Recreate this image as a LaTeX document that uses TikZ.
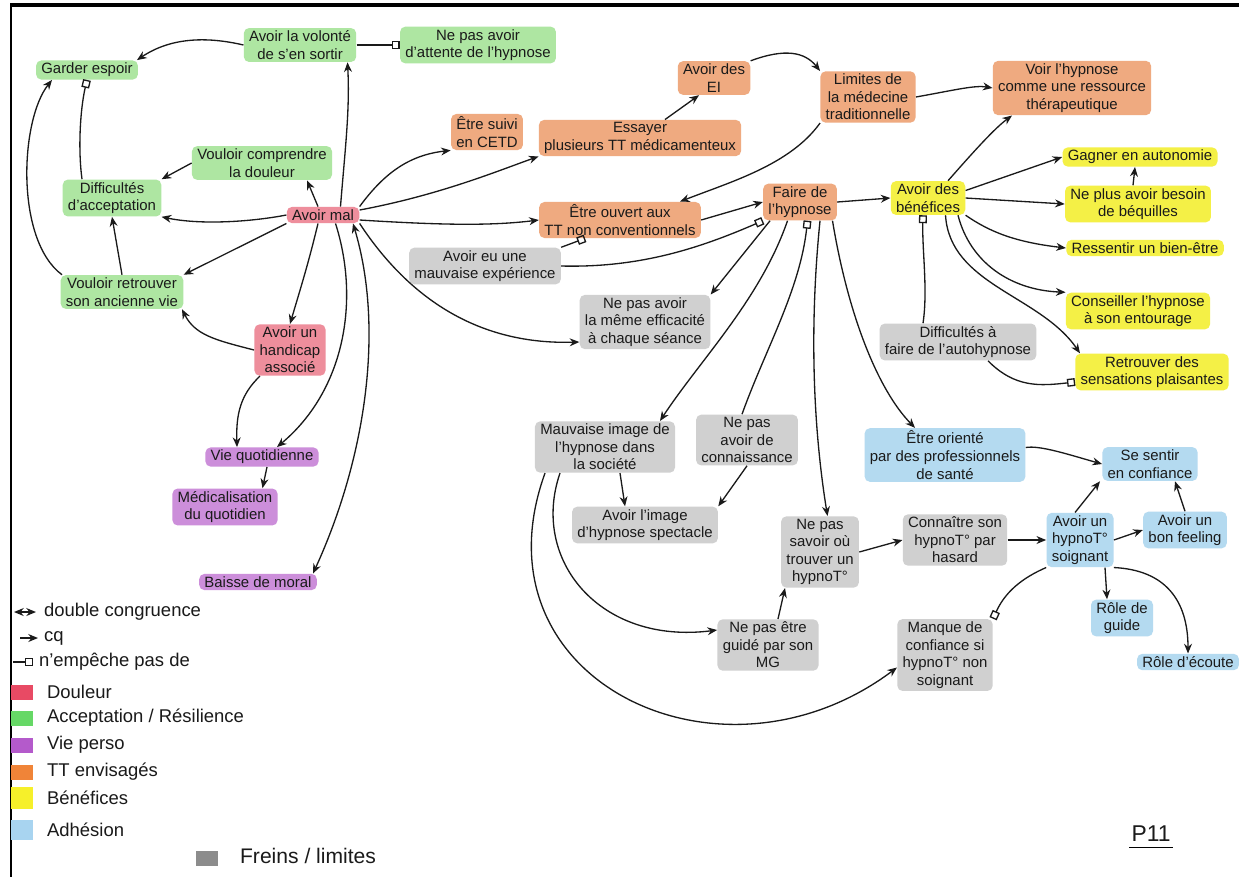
\documentclass[tikz,border=0pt]{standalone}
\usepackage{fontspec}
\setmainfont{Liberation Sans}
\usetikzlibrary{arrows.meta}
\definecolor{hlRed}{HTML}{EE8E9C}
\definecolor{hlGreen}{HTML}{AEE6A2}
\definecolor{hlPurple}{HTML}{CC8EDA}
\definecolor{hlOrange}{HTML}{EFAA80}
\definecolor{hlYellow}{HTML}{F4F046}
\definecolor{hlBlue}{HTML}{B4DAF0}
\definecolor{hlGray}{HTML}{D0D0D0}
\definecolor{swRed}{HTML}{E84A64}
\definecolor{swGreen}{HTML}{66D866}
\definecolor{swPurple}{HTML}{B45ACB}
\definecolor{swOrange}{HTML}{F08438}
\definecolor{swYellow}{HTML}{F6F02A}
\definecolor{swBlue}{HTML}{A8D4F0}
\definecolor{swGray}{HTML}{8C8C8C}
\definecolor{ink}{HTML}{1A1A1A}
\tikzset{
  hl/.style={draw=none, rounded corners=3pt, inner xsep=3pt, inner ysep=1.5pt, align=center, text=ink, font=\fontsize{8.5}{10}\selectfont},
  nR/.style={hl, fill=hlRed},
  nG/.style={hl, fill=hlGreen},
  nP/.style={hl, fill=hlPurple},
  nO/.style={hl, fill=hlOrange},
  nY/.style={hl, fill=hlYellow},
  nB/.style={hl, fill=hlBlue},
  nF/.style={hl, fill=hlGray},
  cause/.style={draw=ink, line width=0.75pt, -{Stealth[length=5.5pt,width=4.5pt]}},
  block/.style={draw=ink, line width=0.75pt, -{Square[open,length=4.5pt,width=4.5pt,line width=0.75pt]}},
  dbl/.style={draw=ink, line width=0.75pt, {Stealth[length=5.5pt,width=4.5pt]}-{Stealth[length=5.5pt,width=4.5pt]}},
  legtext/.style={anchor=west, text=ink, inner sep=1pt, font=\fontsize{10.5}{12}\selectfont},
  swatch/.style={minimum width=0.44cm, minimum height=0.3cm, inner sep=0pt, draw=none},
}
\begin{document}
\begin{tikzpicture}[x=0.02cm,y=-0.02cm]
\useasboundingbox (0,0) rectangle (1239,877);
\fill[white] (0,0) rectangle (1239,877);
\draw[line width=2.2pt] (10,5) -- (1239,5);
\draw[line width=1.2pt] (11,4) -- (11,877);

% green
\node[nG] (g1) at (87,70) {Garder espoir};
\node[nG] (g2) at (300,45) {Avoir la volonté\\de s'en sortir};
\node[nG] (g3) at (478,45) {Ne pas avoir\\d'attente de l'hypnose};
\node[nG] (g4) at (262,163) {Vouloir comprendre\\la douleur};
\node[nG] (g5) at (112,198) {Difficultés\\d'acceptation};
\node[nG] (g6) at (122,292) {Vouloir retrouver\\son ancienne vie};
% red
\node[nR] (r1) at (323,215) {Avoir mal};
\node[nR] (r2) at (290,350) {Avoir un\\handicap\\associé};
% purple
\node[nP] (p1) at (262,457) {Vie quotidienne};
\node[nP] (p2) at (225,507) {Médicalisation\\du quotidien};
\node[nP] (p3) at (258,582) {Baisse de moral};
% orange
\node[nO] (o1) at (487,132) {Être suivi\\en CETD};
\node[nO] (o2) at (640,138) {Essayer\\plusieurs TT médicamenteux};
\node[nO] (o3) at (714,78) {Avoir des\\EI};
\node[nO] (o4) at (868,97) {Limites de\\la médecine\\traditionnelle};
\node[nO] (o5) at (1072,88) {Voir l'hypnose\\comme une ressource\\thérapeutique};
\node[nO] (o6) at (620,220) {Être ouvert aux\\TT non conventionnels};
\node[nO] (o7) at (800,202) {Faire de\\l'hypnose};
% yellow
\node[nY] (y1) at (928,198) {Avoir des\\bénéfices};
\node[nY] (y2) at (1140,157) {Gagner en autonomie};
\node[nY] (y3) at (1138,204) {Ne plus avoir besoin\\de béquilles};
\node[nY] (y4) at (1145,248) {Ressentir un bien-être};
\node[nY] (y5) at (1138,311) {Conseiller l'hypnose\\à son entourage};
\node[nY] (y6) at (1152,372) {Retrouver des\\sensations plaisantes};
% gray
\node[nF] (f1) at (485,266) {Avoir eu une\\mauvaise expérience};
\node[nF] (f2) at (645,322) {Ne pas avoir\\la même efficacité\\à chaque séance};
\node[nF] (f3) at (605,447) {Mauvaise image de\\l'hypnose dans\\la société};
\node[nF] (f4) at (747,440) {Ne pas\\avoir de\\connaissance};
\node[nF] (f5) at (645,525) {Avoir l'image\\d'hypnose spectacle};
\node[nF] (f6) at (820,552) {Ne pas\\savoir où\\trouver un\\hypnoT°};
\node[nF] (f7) at (768,645) {Ne pas être\\guidé par son\\MG};
\node[nF] (f8) at (955,540) {Connaître son\\hypnoT° par\\hasard};
\node[nF] (f9) at (958,342) {Difficultés à\\faire de l'autohypnose};
\node[nF] (f10) at (945,655) {Manque de\\confiance si\\hypnoT° non\\soignant};
% blue
\node[nB] (b1) at (945,455) {Être orienté\\par des professionnels\\de santé};
\node[nB] (b2) at (1150,464) {Se sentir\\en confiance};
\node[nB] (b3) at (1080,540) {Avoir un\\hypnoT°\\soignant};
\node[nB] (b4) at (1185,530) {Avoir un\\bon feeling};
\node[nB] (b5) at (1122,618) {Rôle de\\guide};
\node[nB] (b6) at (1188,662) {Rôle d'écoute};

% edges: green / red area
\draw[cause] (g2.west) .. controls (205,36) and (170,38) .. ([xshift=1cm]g1.north);
\draw[block] (g2.east) -- (g3.west);
\draw[block] ([xshift=-0.6cm]g5.north) .. controls (78,150) and (80,110) .. (g1.south);
\draw[cause] ([xshift=-1.2cm]g6.north) .. controls (15,240) and (20,120) .. ([xshift=-0.7cm]g1.south);
\draw[cause] (g6.north) -- (g5.south);
\draw[cause] (g4.west) -- (g5.north east);
\draw[cause] ([xshift=-0.1cm]r1.north) -- ([xshift=0.9cm]g4.south);
\draw[cause] (r1.west) .. controls (250,222) and (200,225) .. (g5.south east);
\draw[cause] (r1.south west) -- (g6.north east);
\draw[cause] ([xshift=0.35cm]r1.north) .. controls (345,150) and (350,110) .. ([xshift=0.95cm]g2.south);
\draw[cause] ([xshift=-0.1cm]r1.south) .. controls (308,265) and (300,290) .. (r2.north);
\draw[cause] ([xshift=0.25cm]r1.south) .. controls (360,300) and (345,390) .. ([xshift=0.3cm]p1.north);
\draw[dbl] ([xshift=0.6cm]r1.south) .. controls (385,330) and (365,460) .. ([xshift=1.1cm]p3.north);
\draw[cause] (r1.south east) .. controls (410,300) and (480,345) .. ([yshift=-0.4cm]f2.west);
\draw[cause] (r1.north east) .. controls (385,172) and (410,155) .. (o1.south west);
\draw[cause] ([yshift=0.1cm]r1.east) .. controls (440,195) and (500,170) .. (o2.south west);
\draw[cause] ([yshift=-0.1cm]r1.east) .. controls (440,225) and (490,226) .. (o6.west);
\draw[cause] (r2.west) .. controls (215,340) and (195,335) .. ([xshift=1.2cm]g6.south);
\draw[cause] ([xshift=-0.6cm]r2.south) .. controls (240,395) and (236,415) .. ([xshift=-0.5cm]p1.north);
\draw[cause] ([xshift=0.1cm]p1.south) -- ([xshift=0.75cm]p2.north);

% orange
\draw[cause] ([xshift=0.5cm]o2.north) -- ([xshift=-0.3cm]o3.south);
\draw[cause] (o3.north east) .. controls (785,48) and (805,52) .. (o4.north west);
\draw[cause] (o4.south west) .. controls (790,165) and (730,182) .. ([xshift=1.2cm]o6.north);
\draw[cause] (o4.east) .. controls (955,90) and (975,85) .. (o5.west);
\draw[cause] (o6.east) -- (o7.west);
\draw[block] (f1.north east) -- ([xshift=-0.7cm]o6.south);
\draw[block] (f1.east) .. controls (640,268) and (700,248) .. (o7.south west);
\draw[cause] (o7.east) -- (y1.west);
\draw[cause] ([xshift=-0.6cm]o7.south) -- (f2.north east);
\draw[cause] ([xshift=-0.25cm]o7.south) .. controls (760,300) and (700,360) .. ([xshift=1.1cm]f3.north);
\draw[block] ([xshift=-0.1cm]f4.north) .. controls (765,350) and (800,290) .. ([xshift=0.15cm]o7.south);
\draw[cause] ([xshift=0.4cm]o7.south) .. controls (810,320) and (812,420) .. ([xshift=0.15cm]f6.north);
\draw[cause] ([xshift=0.65cm]o7.south) .. controls (848,315) and (878,390) .. ([xshift=-0.6cm]b1.north);

% yellow
\draw[cause] ([xshift=0.4cm]y1.north) .. controls (975,150) and (995,128) .. ([xshift=-1.2cm]o5.south);
\draw[cause] ([yshift=0.15cm]y1.east) -- (y2.west);
\draw[cause] (y1.east) -- (y3.west);
\draw[cause] (y1.south east) .. controls (990,232) and (1015,242) .. (y4.west);
\draw[cause] ([xshift=0.6cm]y1.south) .. controls (970,262) and (1010,290) .. (y5.north west);
\draw[cause] ([xshift=0.35cm]y1.south) .. controls (950,285) and (1040,295) .. ([xshift=0.1cm]y6.north west);
\draw[cause] ([xshift=-0.1cm]y3.north) -- ([xshift=-0.1cm]y2.south);
\draw[block] ([xshift=-0.7cm]f9.north) .. controls (928,290) and (922,250) .. ([xshift=-0.1cm]y1.south);
\draw[block] ([xshift=0.6cm]f9.south) .. controls (1015,388) and (1040,386) .. ([yshift=-0.2cm]y6.west);

% gray
\draw[cause] ([xshift=0.3cm]f3.south) -- ([xshift=-0.4cm]f5.north);
\draw[cause] (f4.south) -- (f5.north east);
\draw[cause] ([xshift=-0.9cm]f3.south) .. controls (530,560) and (600,645) .. ([yshift=0.3cm]f7.west);
\draw[cause] ([xshift=-1.2cm]f3.south) .. controls (470,680) and (720,800) .. ([yshift=-0.25cm]f10.west);
\draw[cause] ([xshift=0.2cm]f7.north) -- ([xshift=-0.7cm]f6.south);
\draw[cause] (f6.east) -- (f8.west);
\draw[cause] (f8.east) -- (b3.west);
\draw[block] (b3.south west) .. controls (1022,578) and (1005,592) .. (f10.north east);

% blue
\draw[cause] ([yshift=0.15cm]b1.east) .. controls (1040,445) and (1070,455) .. (b2.west);
\draw[cause] ([xshift=-0.1cm]b3.north) -- ([xshift=-1cm]b2.south);
\draw[cause] (b3.east) -- (b4.west);
\draw[cause] (b4.north) -- ([xshift=0.5cm]b2.south);
\draw[cause] ([xshift=0.5cm]b3.south) -- ([xshift=-0.3cm]b5.north);
\draw[cause] (b3.south east) .. controls (1165,570) and (1188,600) .. (b6.north);

% legend
\coordinate (ld1) at (14,612); \coordinate (ld2) at (36,612);
\draw[dbl] (ld1) -- (ld2);
\node[legtext] (lt1) at (42,612) {double congruence};
\coordinate (lc1) at (20,638); \coordinate (lc2) at (38,638);
\draw[cause] (lc1) -- (lc2);
\node[legtext] (lt2) at (42,638) {cq};
\coordinate (lb1) at (13,662); \coordinate (lb2) at (33,662);
\draw[block] (lb1) -- (lb2);
\node[legtext] (lt3) at (37,662) {n'empêche pas de};
\node[swatch, fill=swRed] (s1) at (22,692) {};
\node[legtext] (l1) at (45,692) {Douleur};
\node[swatch, fill=swGreen] (s2) at (22,718) {};
\node[legtext] (l2) at (45,718) {Acceptation / Résilience};
\node[swatch, fill=swPurple] (s3) at (22,745) {};
\node[legtext] (l3) at (45,745) {Vie perso};
\node[swatch, fill=swOrange] (s4) at (22,772) {};
\node[legtext] (l4) at (45,772) {TT envisagés};
\node[swatch, fill=swYellow, minimum height=0.45cm] (s5) at (22,798) {};
\node[legtext] (l5) at (45,798) {Bénéfices};
\node[swatch, fill=swBlue, minimum height=0.4cm] (s6) at (22,830) {};
\node[legtext] (l6) at (45,830) {Adhésion};
\node[swatch, fill=swGray] (s7) at (207,858) {};
\node[legtext, font=\fontsize{12}{14}\selectfont] (l7) at (238,856) {Freins / limites};
\node[font=\fontsize{13}{15}\selectfont, text=ink, inner sep=1pt] (pg) at (1151,834) {P11};
\draw[line width=1pt] ([yshift=-2pt]pg.south west) -- ([yshift=-2pt]pg.south east);
\end{tikzpicture}
\end{document}
